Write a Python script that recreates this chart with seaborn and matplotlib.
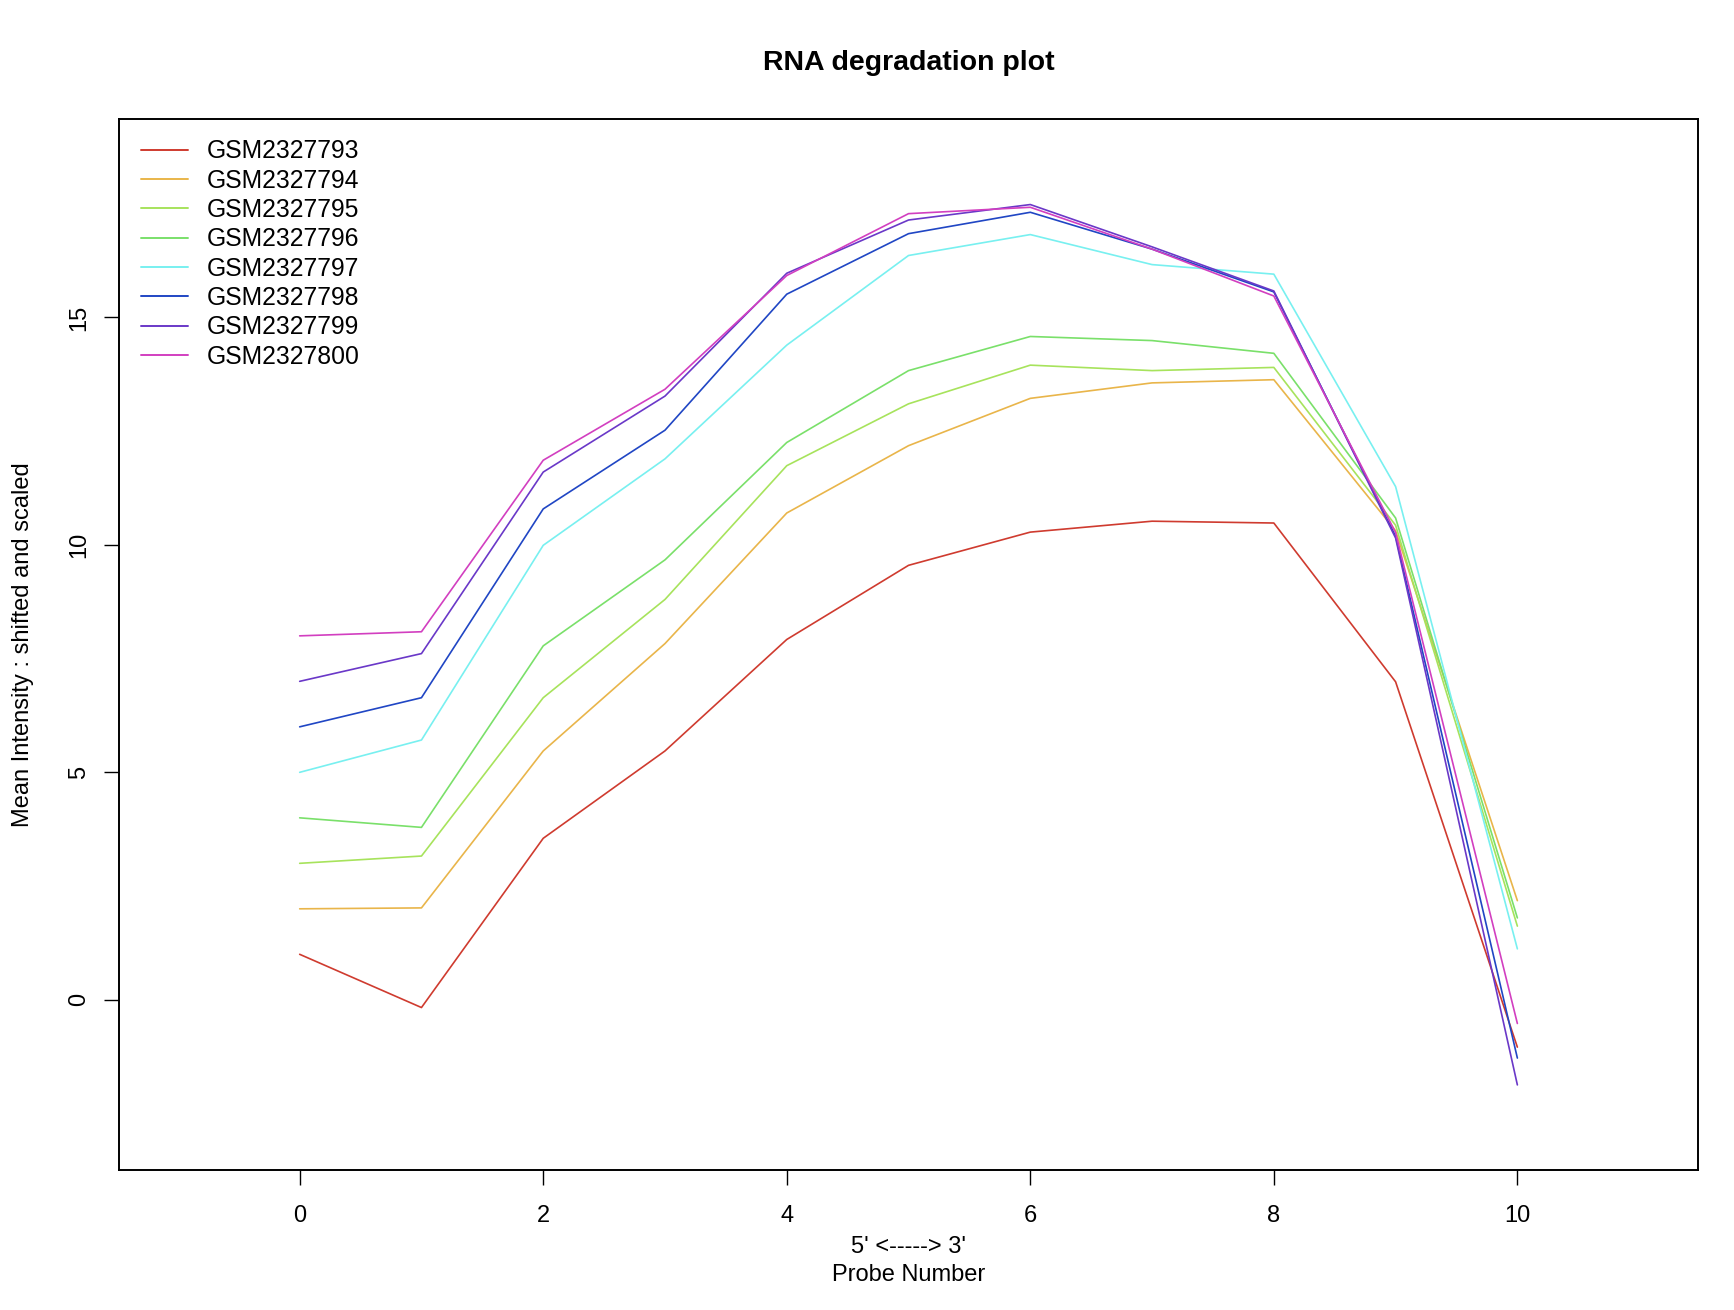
import numpy as np
import pandas as pd
import matplotlib
matplotlib.use("Agg")
import matplotlib.pyplot as plt
import seaborn as sns

probe = [0, 1, 2, 3, 4, 5, 6, 7, 8, 9, 10]
samples = ["GSM2327793", "GSM2327794", "GSM2327795", "GSM2327796",
           "GSM2327797", "GSM2327798", "GSM2327799", "GSM2327800"]
gsm2327793 = [1.00, -0.17, 3.55, 5.47, 7.92, 9.55, 10.28, 10.52, 10.48, 6.99, -1.04]
gsm2327794 = [2.00, 2.02, 5.47, 7.83, 10.70, 12.18, 13.22, 13.56, 13.63, 10.31, 2.18]
gsm2327795 = [3.00, 3.16, 6.64, 8.80, 11.74, 13.10, 13.95, 13.83, 13.90, 10.43, 1.62]
gsm2327796 = [4.00, 3.79, 7.78, 9.67, 12.25, 13.83, 14.58, 14.49, 14.21, 10.59, 1.80]
gsm2327797 = [5.00, 5.71, 9.99, 11.89, 14.39, 16.36, 16.82, 16.16, 15.95, 11.28, 1.12]
gsm2327798 = [6.00, 6.64, 10.79, 12.52, 15.51, 16.84, 17.31, 16.50, 15.56, 10.19, -1.28]
gsm2327799 = [7.00, 7.61, 11.60, 13.27, 15.97, 17.14, 17.48, 16.55, 15.58, 10.15, -1.87]
gsm2327800 = [8.00, 8.09, 11.86, 13.42, 15.92, 17.28, 17.42, 16.50, 15.47, 10.27, -0.52]
colors = ["#cf3b2f", "#e9b54a", "#a7e35c", "#7ae06a", "#78f0f0", "#2046c4", "#6a38c8", "#d23fc0"]

series = [gsm2327793, gsm2327794, gsm2327795, gsm2327796,
          gsm2327797, gsm2327798, gsm2327799, gsm2327800]
df = pd.concat([pd.DataFrame({"probe": probe, "value": s, "sample": n})
                for n, s in zip(samples, series)], ignore_index=True)

sns.set_style("white")
plt.rcParams['font.family'] = ['Liberation Sans', 'DejaVu Sans']
plt.rcParams['text.color'] = 'black'
plt.rcParams['axes.labelcolor'] = 'black'

fig = plt.figure(figsize=(17.34, 13.10), dpi=100)
ax_left, ax_width = 0.0689, 0.9101
ax = fig.add_axes([ax_left, 0.1069, ax_width, 0.8019])

sns.lineplot(data=df, x="probe", y="value", hue="sample", palette=colors,
             hue_order=samples, linewidth=1.2, ax=ax, estimator=None, sort=False)

ax.set_xlim(-1.48, 11.48)
ax.set_ylim(-3.74, 19.35)
ax.set_xticks([0, 2, 4, 6, 8, 10])
ax.set_yticks([0, 5, 10, 15])
ax.tick_params(axis="x", direction="out", length=11, width=1.0,
               labelsize=17, colors="black", pad=14.5, bottom=True)
ax.tick_params(axis="y", direction="out", length=11, width=1.0,
               labelsize=17, colors="black", pad=10, left=True)
for lab in ax.get_yticklabels():
    lab.set_rotation(90)
    lab.set_va("center")
for sp in ax.spines.values():
    sp.set_linewidth(1.4)
    sp.set_color("black")

ax.set_xlabel("5' <-----> 3'\nProbe Number", fontsize=17, labelpad=6.5, linespacing=1.35)
ax.set_ylabel("Mean Intensity : shifted and scaled", fontsize=17, labelpad=25)
fig.suptitle("RNA degradation plot", fontsize=20.5, fontweight="bold", y=0.962,
             x=ax_left + ax_width / 2)

leg = ax.legend(loc="upper left", bbox_to_anchor=(0.0135, 0.981), frameon=False,
                fontsize=17.8, handlelength=1.9, handletextpad=0.78,
                labelspacing=0.215, borderaxespad=0, borderpad=0)
for l in leg.get_lines():
    l.set_linewidth(1.4)

fig.savefig("out.png", dpi=100)
